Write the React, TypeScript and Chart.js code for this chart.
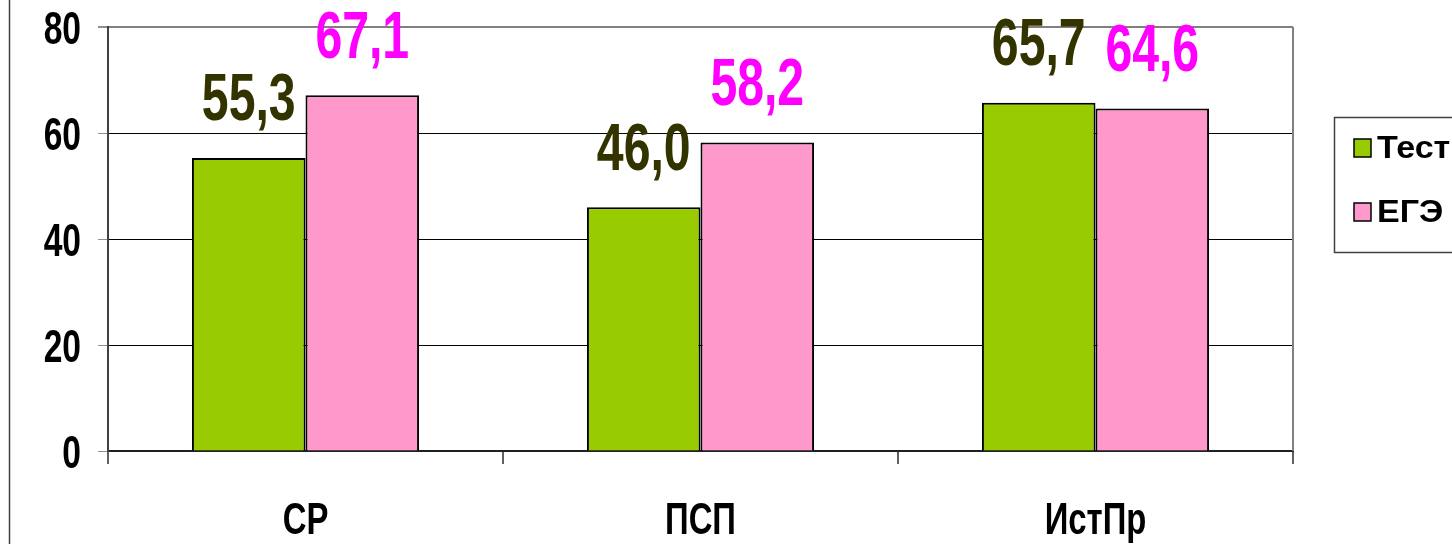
import React, { useEffect, useRef } from "react";
import { Chart, registerables } from "chart.js";

Chart.register(...registerables);

const categories = ["СР", "ПСП", "ИстПр"];
const seriesNames = ["Тест", "ЕГЭ"];
const testValues = [55.3, 46.0, 65.7];
const egeValues = [67.1, 58.2, 64.6];
const yTicks = [0, 20, 40, 60, 80];

const FONT = '"Liberation Sans", Arial, "DejaVu Sans", sans-serif';
const barColors = ["#99CC00", "#FF99CC"];
const labelColors = ["#333300", "#FF00FF"];

const fmt = (v: number) => v.toFixed(1).replace(".", ",");

function drawText(
  ctx: CanvasRenderingContext2D,
  text: string,
  x: number,
  y: number,
  size: number,
  sx: number,
  sy: number,
  align: CanvasTextAlign,
  color: string
) {
  ctx.save();
  ctx.translate(x, y);
  ctx.scale(sx, sy);
  ctx.font = `bold ${size}px ${FONT}`;
  ctx.fillStyle = color;
  ctx.textAlign = align;
  ctx.textBaseline = "alphabetic";
  ctx.fillText(text, 0, 0);
  ctx.restore();
}

const decorPlugin = {
  id: "decor",
  beforeDatasetsDraw(chart: any) {
    const { ctx, chartArea } = chart;
    ctx.save();
    ctx.strokeStyle = "#808080";
    ctx.lineWidth = 2;
    ctx.beginPath();
    ctx.moveTo(chartArea.right, chartArea.top);
    ctx.lineTo(chartArea.right, chartArea.bottom);
    ctx.stroke();
    ctx.restore();
  },
  afterDatasetsDraw(chart: any) {
    const { ctx } = chart;
    chart.data.datasets.forEach((ds: any, di: number) => {
      const meta = chart.getDatasetMeta(di);
      meta.data.forEach((el: any, i: number) => {
        drawText(ctx, fmt(ds.data[i]), el.x, el.y - 37.5, 66, 0.73, 1, "center", labelColors[di]);
      });
    });
  },
  afterDraw(chart: any) {
    const { ctx } = chart;
    const xs = chart.scales.x;
    const ys = chart.scales.y;
    yTicks.forEach((v) => {
      const y = ys.getPixelForValue(v);
      drawText(ctx, String(v), 81, y + 17, 46, 0.73, 1, "right", "#000");
    });
    categories.forEach((c, i) => {
      const x = xs.getPixelForTick(i);
      drawText(ctx, c, x, 534, 45, 0.73, 1, "center", "#000");
    });
    ctx.save();
    ctx.strokeStyle = "#404040";
    ctx.lineWidth = 1.5;
    ctx.beginPath();
    ctx.moveTo(9.5, 0);
    ctx.lineTo(9.5, 544);
    ctx.stroke();
    ctx.strokeStyle = "#404040";
    ctx.lineWidth = 1.5;
    ctx.strokeRect(1334.5, 117.5, 200, 135);
    const rows = [158, 222];
    chart.data.datasets.forEach((ds: any, di: number) => {
      const base = rows[di];
      ctx.fillStyle = barColors[di];
      ctx.fillRect(1354, base - 19, 17, 18);
      ctx.strokeStyle = "#000";
      ctx.lineWidth = 1.5;
      ctx.strokeRect(1354, base - 19, 17, 18);
      drawText(ctx, ds.label, 1377, base, 31, 1.1, 1, "left", "#000");
    });
    ctx.restore();
  },
};

export default function App() {
  const ref = useRef<HTMLCanvasElement | null>(null);
  useEffect(() => {
    if (!ref.current) return;
    const chart = new Chart(ref.current, {
      type: "bar",
      data: {
        labels: categories,
        datasets: [
          {
            label: seriesNames[0],
            data: testValues,
            backgroundColor: barColors[0],
            borderColor: "#000",
            borderWidth: 2,
          },
          {
            label: seriesNames[1],
            data: egeValues,
            backgroundColor: barColors[1],
            borderColor: "#000",
            borderWidth: 2,
          },
        ],
      },
      options: {
        animation: false,
        responsive: false,
        maintainAspectRatio: false,
        layout: { padding: { left: 0, top: 27, right: 159, bottom: 0 } },
        plugins: {
          legend: { display: false },
          tooltip: { enabled: false },
        },
        datasets: {
          bar: { categoryPercentage: 0.575, barPercentage: 1.0 },
        },
        scales: {
          x: {
            afterFit: (s: any) => {
              s.height = 93;
            },
            grid: {
              offset: true,
              drawOnChartArea: false,
              drawTicks: true,
              tickLength: 13,
              color: "#606060",
              lineWidth: 2,
            },
            border: { color: "#202020", width: 2 },
            ticks: { display: false },
          },
          y: {
            min: 0,
            max: 80,
            afterFit: (s: any) => {
              s.width = 108;
            },
            afterBuildTicks: (s: any) => {
              s.ticks = yTicks.map((v) => ({ value: v }));
            },
            grid: {
              tickLength: 10,
              color: (c: any) => (c.tick && c.tick.value === 80 ? "#808080" : "#000"),
              lineWidth: (c: any) => (c.tick && c.tick.value === 80 ? 2 : 1),
              tickColor: "#909090",
            },
            border: { color: "#404040", width: 2 },
            ticks: { display: false },
          },
        },
      },
      plugins: [decorPlugin],
    });
    return () => chart.destroy();
  }, []);
  return (
    <div style={{ position: "fixed", left: 0, top: 0, width: 1452, height: 544, background: "#fff" }}>
      <canvas ref={ref} width={1452} height={544} />
    </div>
  );
}
